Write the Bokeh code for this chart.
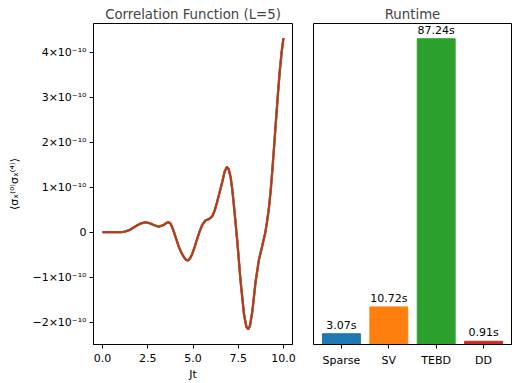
import numpy as np
from bokeh.plotting import figure
from bokeh.layouts import row
from bokeh.core.properties import value
from bokeh.models import (Range1d, FixedTicker, CustomJSTickFormatter, PrintfTickFormatter,
                          ColumnDataSource, LabelSet)
from bokeh.embed import file_html
from bokeh.resources import INLINE

# ---- data ----
time_jt = [0.0, 0.5, 1.0, 1.15, 1.3, 1.5, 1.7, 1.9, 2.1, 2.35, 2.6, 2.83, 3.1, 3.38, 3.55,
           3.66, 3.76, 3.85, 3.95, 4.03, 4.21, 4.35, 4.49, 4.6, 4.71, 4.83, 4.95, 5.1,
           5.23, 5.37, 5.51, 5.69, 5.88, 6.06, 6.2, 6.34, 6.5, 6.62, 6.75, 6.87, 6.97,
           7.08, 7.17, 7.26, 7.45, 7.63, 7.82, 7.95, 8.05, 8.15, 8.28, 8.46, 8.65, 8.8,
           9.0, 9.1, 9.2, 9.3, 9.4, 9.5, 9.6, 9.7, 9.8, 9.9, 10.0]
corr_e10 = [0.0, 0.0, 0.0, 0.005, 0.02, 0.05, 0.10, 0.15, 0.19, 0.22, 0.20, 0.16, 0.12, 0.16, 0.21,
            0.22, 0.19, 0.11, 0.0, -0.10, -0.32, -0.45, -0.55, -0.61, -0.63, -0.59, -0.49, -0.32,
            -0.15, 0.02, 0.16, 0.26, 0.29, 0.35, 0.48, 0.68, 0.93, 1.12, 1.35, 1.45, 1.40,
            1.22, 0.95, 0.60, -0.21, -1.09, -1.83, -2.10, -2.16, -2.08, -1.76, -1.10, -0.60, -0.35,
            0.0, 0.25, 0.55, 0.95, 1.45, 2.0, 2.55, 3.1, 3.6, 4.0, 4.31]
methods = ["Sparse", "SV", "TEBD", "DD"]
runtimes = [3.07, 10.72, 87.24, 0.91]
colors = ["#1f77b4", "#ff7f0e", "#2ca02c", "#d62728"]
ytick_vals_e10 = [-2, -1, 0, 1, 2, 3, 4]
xtick_vals = [0.0, 2.5, 5.0, 7.5, 10.0]

FONT = "DejaVu Sans"
t = np.array(time_jt)
corr = np.array(corr_e10) * 1e-10
Y0, Y1 = -2.496e-10, 4.636e-10

def style(p):
    p.title.text_font = FONT
    p.title.text_font_size = "13.3px"
    p.title.text_font_style = "normal"
    p.title.align = "center"
    p.title.standoff = 4
    p.outline_line_color = "black"
    p.outline_line_width = 1
    p.xgrid.visible = False
    p.ygrid.visible = False
    for ax in list(p.xaxis) + list(p.yaxis):
        ax.major_label_text_font = FONT
        ax.major_label_text_font_size = "11px"
        ax.major_label_text_color = "black"
        ax.axis_label_text_font = FONT
        ax.axis_label_text_font_size = "11px"
        ax.axis_label_text_font_style = "normal"
        ax.axis_label_text_color = "black"
        ax.major_tick_out = 4
        ax.major_tick_in = 0
        ax.minor_tick_out = 0
        ax.minor_tick_in = 0
        ax.major_label_standoff = 3
        ax.axis_line_color = "black"
        ax.major_tick_line_color = "black"
    for ax in p.xaxis:
        ax.major_label_standoff = 5
        ax.axis_label_standoff = 3

# ---- left: correlation function ----
p1 = figure(width=303, height=383, output_backend="svg", toolbar_location=None,
            title="Correlation Function (L=5)",
            x_range=Range1d(-0.5, 10.5), y_range=Range1d(Y0, Y1),
            min_border_left=93, min_border_right=11, min_border_top=23, min_border_bottom=38)
for w, c in zip([2.3, 2.3, 2.0, 1.7], colors):
    p1.line(t, corr, line_color=c, line_width=w)
p1.xaxis.ticker = FixedTicker(ticks=xtick_vals)
p1.xaxis.formatter = PrintfTickFormatter(format="%.1f")
p1.yaxis.ticker = FixedTicker(ticks=[v * 1e-10 for v in ytick_vals_e10])
p1.yaxis.formatter = CustomJSTickFormatter(code="""
    const n = Math.round(tick / 1e-10);
    if (n === 0) return "0";
    return (n < 0 ? "\u2212" : "") + Math.abs(n) + "\u00d710\u207b\u00b9\u2070";
""")
p1.xaxis.axis_label = "Jt"
p1.yaxis.axis_label = "\u27e8\u03c3\u2093\u207d\u2070\u207e\u03c3\u2093\u207d\u2074\u207e\u27e9"
style(p1)
p1.yaxis.axis_label_standoff = 8

# ---- right: runtime bars ----
xs = list(range(len(methods)))
src = ColumnDataSource(dict(x=xs, y=runtimes, color=colors,
                            lbl=[f"{r:.2f}s" for r in runtimes]))
p2 = figure(width=209, height=383, output_backend="svg", toolbar_location=None,
            title="Runtime",
            x_range=Range1d(-0.59, 3.59), y_range=Range1d(0, 91.6),
            min_border_left=10, min_border_right=1, min_border_top=23, min_border_bottom=38)
p2.vbar(x="x", top="y", width=0.8, color="color", source=src)
labels = LabelSet(x="x", y="y", text="lbl", source=src, text_align="center",
                  text_baseline="bottom", y_offset=2, text_font=value(FONT),
                  text_font_size=value("11px"), text_color="black")
p2.add_layout(labels)
p2.xaxis.ticker = FixedTicker(ticks=xs)
p2.xaxis.major_label_overrides = {i: m for i, m in enumerate(methods)}
style(p2)
p2.yaxis.visible = False

layout = row(p1, p2)
open("out.html", "w").write(file_html(layout, INLINE))
